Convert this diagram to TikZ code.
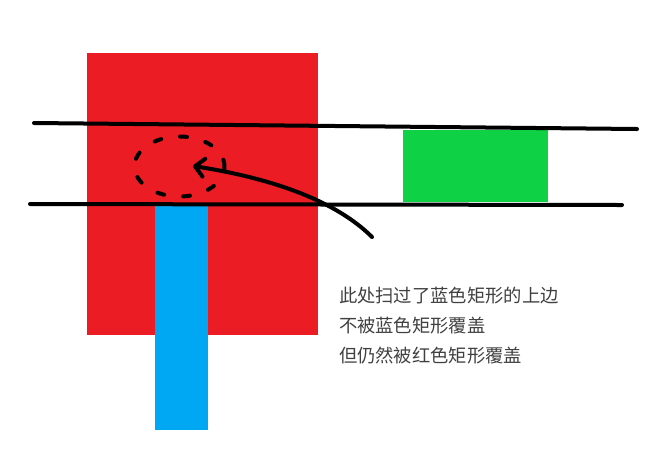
\documentclass[tikz,border=0pt]{standalone}
\usepackage{fontspec}
\newfontfamily\cjk{Noto Sans CJK SC}
\usetikzlibrary{arrows.meta, shapes.geometric}
\definecolor{paintred}{HTML}{EC1C24}
\definecolor{paintblue}{HTML}{00A8F3}
\definecolor{paintgreen}{HTML}{0ED145}
\begin{document}
\begin{tikzpicture}[x=1pt, y=-1pt]
	\tikzstyle{every node} = [inner sep=0, outer sep=0]
	\tikzstyle{block} = [rectangle, draw=none]
	\tikzstyle{pen} = [line width=4pt, line cap=round, black]
	\tikzstyle{note} = [anchor=base west, text=black!75, font=\fontsize{18.3}{22}\selectfont\cjk]
	\useasboundingbox (0,0) rectangle (668,475);
	\node [block, fill=paintred, minimum width=231pt, minimum height=282pt] (red) at (202.5, 194) {};
	\node [block, fill=paintblue, minimum width=53pt, minimum height=225pt] (blue) at (181.5, 317.5) {};
	\node [block, fill=paintgreen, minimum width=145pt, minimum height=72pt] (green) at (475.5, 166) {};
	\coordinate (top1) at (34, 123);
	\coordinate (top2) at (637, 129);
	\coordinate (bot1) at (30, 204);
	\coordinate (bot2) at (622, 205);
	\draw [pen] (top1)--(top2);
	\draw [pen] (bot1)--(bot2);
	\node [ellipse, pen, draw, dash pattern=on 7pt off 19pt, minimum width=90pt, minimum height=60pt] (sweep) at (179.5, 166.5) {};
	\coordinate (tail) at (372, 237);
	\coordinate (tip) at (193, 166);
	\draw [pen, -{Straight Barb[length=9pt, width=18pt, round]}] (tail) .. controls (335, 200) and (270, 178) .. (tip);
	\node [note] (note1) at (339, 302) {此处扫过了蓝色矩形的上边};
	\node [note] (note2) at (339, 332) {不被蓝色矩形覆盖};
	\node [note] (note3) at (339, 362.5) {但仍然被红色矩形覆盖};
\end{tikzpicture}
\end{document}
